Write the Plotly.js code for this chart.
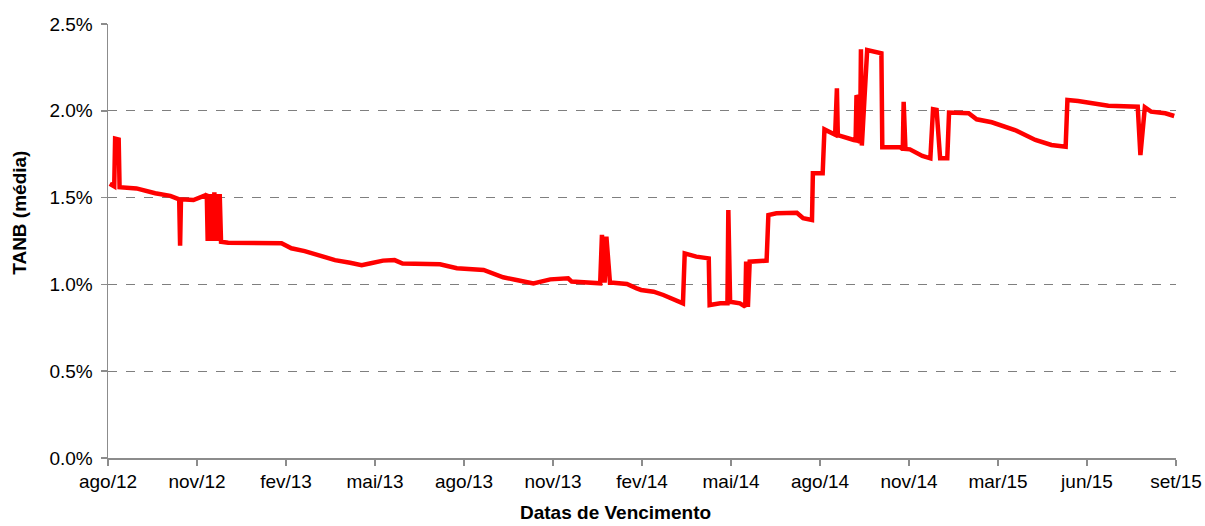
<!DOCTYPE html>
<html>
<head>
<meta charset="utf-8">
<script src="https://cdn.plot.ly/plotly-3.0.1.min.js"></script>
<style>html,body{margin:0;padding:0;background:#fff;}#chart{width:1205px;height:526px;}</style>
</head>
<body>
<div id="chart"></div>
<script>
// Category-axis tick labels (one every equal step along the axis)
const tickLabels = ["ago/12","nov/12","fev/13","mai/13","ago/13","nov/13","fev/14","mai/14","ago/14","nov/14","mar/15","jun/15","set/15"];
const tickPositions = [0,1,2,3,4,5,6,7,8,9,10,11,12];

// Position along the category axis (in tick steps) and TANB média (%)
const position = [
  0.02,0.07,0.08,0.12,0.13,0.32,0.53,0.70,0.80,0.81,0.82,0.96,1.10,
  1.11,1.12,1.135,1.15,1.165,1.18,1.195,1.21,1.225,1.24,1.255,1.27,
  1.35,1.95,2.06,2.21,2.36,2.55,2.72,2.85,2.94,3.09,3.22,3.31,3.73,3.92,4.22,4.44,4.59,4.78,4.97,5.17,5.21,5.49,
  5.53,5.55,5.58,5.60,5.64,5.68,5.83,5.94,5.99,6.13,6.24,6.46,
  6.48,6.61,6.75,6.76,6.88,6.96,6.97,6.99,7.10,7.16,7.17,7.19,7.21,7.40,
  7.42,7.51,7.74,7.81,7.91,7.92,8.03,8.05,8.11,8.17,8.19,8.20,8.38,8.40,8.41,8.42,8.45,8.46,8.47,8.53,8.69,8.70,
  8.90,8.93,8.94,8.96,9.01,9.09,9.15,9.24,9.27,9.31,9.35,9.43,9.45,9.67,9.76,9.93,10.08,10.19,10.42,10.60,10.76,
  10.78,10.90,11.09,11.24,11.57,11.60,11.65,11.72,11.88,11.98
];
const tanb = [
  1.58,1.565,1.84,1.835,1.56,1.553,1.525,1.51,1.49,1.223,1.49,1.486,1.515,
  1.52,1.25,1.52,1.25,1.52,1.25,1.53,1.25,1.52,1.25,1.52,1.246,
  1.24,1.237,1.208,1.192,1.17,1.14,1.125,1.11,1.12,1.137,1.14,1.12,1.116,1.093,1.083,1.041,1.025,1.006,1.029,1.035,1.016,1.006,
  1.006,1.285,1.01,1.275,1.01,1.01,1.002,0.977,0.968,0.958,0.939,0.891,
  1.179,1.16,1.15,0.881,0.891,0.891,1.429,0.90,0.891,0.872,1.131,0.87,1.131,1.137,
  1.40,1.41,1.413,1.381,1.371,1.64,1.64,1.893,1.874,1.862,2.13,1.86,1.832,1.83,2.09,2.08,1.813,2.354,1.80,2.35,2.331,1.79,
  1.79,1.778,2.052,1.78,1.778,1.755,1.74,1.726,2.009,2.005,1.726,1.726,1.99,1.986,1.951,1.934,1.909,1.889,1.832,1.803,1.793,
  2.062,2.056,2.039,2.029,2.024,1.745,2.02,1.995,1.986,1.97
];
const yTicks = [0,0.5,1.0,1.5,2.0,2.5];
const yTickLabels = ["0.0%","0.5%","1.0%","1.5%","2.0%","2.5%"];

const font = "Liberation Sans, Arial, sans-serif";
const trace = {
  x: position, y: tanb, type: "scatter", mode: "lines",
  line: {color: "#ff0000", width: 4.5, shape: "linear"},
  hoverinfo: "skip", showlegend: false
};
const layout = {
  width: 1205, height: 526,
  margin: {l: 108, r: 29, t: 24, b: 68, pad: 0},
  paper_bgcolor: "#ffffff", plot_bgcolor: "#ffffff",
  font: {family: font, size: 19, color: "#000000"},
  xaxis: {
    range: [0, 12], tickvals: tickPositions, ticktext: tickLabels,
    showgrid: false, zeroline: false,
    showline: true, linecolor: "#8c8c8c", linewidth: 1.5,
    ticks: "outside", ticklen: 6, tickcolor: "#8c8c8c", tickwidth: 1.5,
    tickfont: {family: font, size: 19, color: "#000"},
    fixedrange: true
  },
  yaxis: {
    range: [0, 2.5], tickvals: yTicks, ticktext: yTickLabels,
    showgrid: true, gridcolor: "#7f7f7f", griddash: "dash", gridwidth: 1,
    zeroline: false,
    showline: true, linecolor: "#8c8c8c", linewidth: 1.5,
    ticks: "outside", ticklen: 6, tickcolor: "#8c8c8c", tickwidth: 1.5,
    ticklabelstandoff: 4,
    tickfont: {family: font, size: 19, color: "#000"},
    fixedrange: true
  },
  annotations: [
    {text: "<b>Datas de Vencimento</b>", xref: "paper", yref: "paper", x: 0.475, y: -0.126,
     xanchor: "center", yanchor: "middle", showarrow: false, font: {family: font, size: 19, color: "#000"}},
    {text: "<b>TANB (média)</b>", xref: "paper", yref: "paper", x: -0.0824, y: 0.565, textangle: -90,
     xanchor: "center", yanchor: "middle", showarrow: false, font: {family: font, size: 19, color: "#000"}}
  ]
};
Plotly.newPlot("chart", [trace], layout, {staticPlot: true, displayModeBar: false});
</script>
</body>
</html>
